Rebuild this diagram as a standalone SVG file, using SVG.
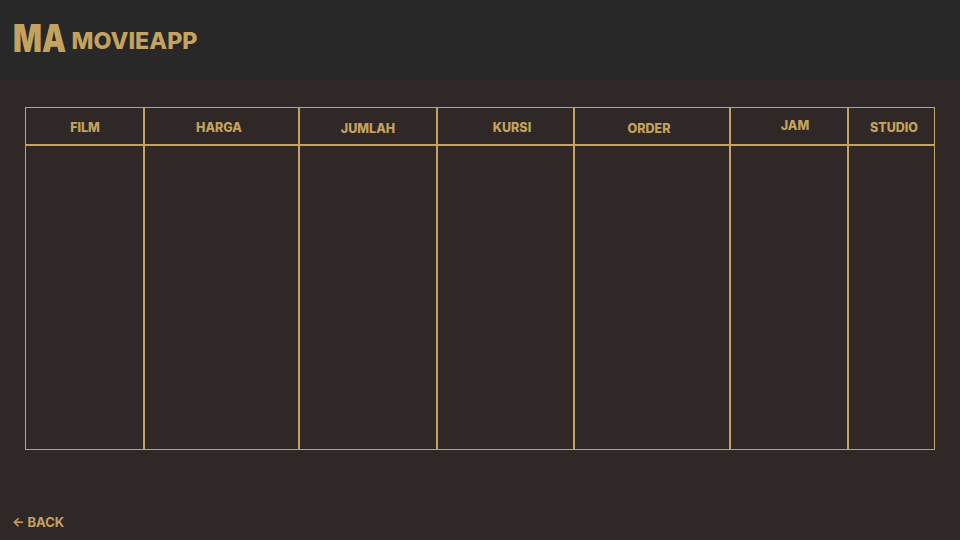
<svg xmlns="http://www.w3.org/2000/svg" width="960" height="540" viewBox="0 0 960 540">
<style>
.t{font-family:"Inter","Liberation Sans",sans-serif;font-weight:700;fill:#c4a25f}
.h{font-size:12.500px;text-anchor:middle;font-weight:800}
.l{stroke:#c4a25f;fill:none}
</style>
<rect width="960" height="540" fill="#302826"/>
<rect id="header" width="960" height="79" fill="#282828"/>
<g id="logo">
<text class="t" x="13" y="52" font-size="38.500" style="font-weight:900" textLength="53" lengthAdjust="spacingAndGlyphs">MA</text>
<text class="t" x="71.500" y="49" font-size="23" style="font-weight:800" textLength="126" lengthAdjust="spacingAndGlyphs">MOVIEAPP</text>
</g>
<g id="table">
<rect class="l" x="25.500" y="107.500" width="909" height="342"/>
<path class="l" stroke-width="2" d="M26 145H934M144 108V449M299 108V449M437 108V449M574 108V449M730 108V449M848 108V449"/>
</g>
<g id="headers">
<text class="t h" x="85" y="132">FILM</text>
<text class="t h" x="219" y="132">HARGA</text>
<text class="t h" x="368" y="133">JUMLAH</text>
<text class="t h" x="512" y="132">KURSI</text>
<text class="t h" x="649" y="133">ORDER</text>
<text class="t h" x="795" y="130">JAM</text>
<text class="t h" x="894" y="132">STUDIO</text>
</g>
<g id="back">
<text class="t" x="12" y="527" font-size="13">← BACK</text>
</g>
</svg>
